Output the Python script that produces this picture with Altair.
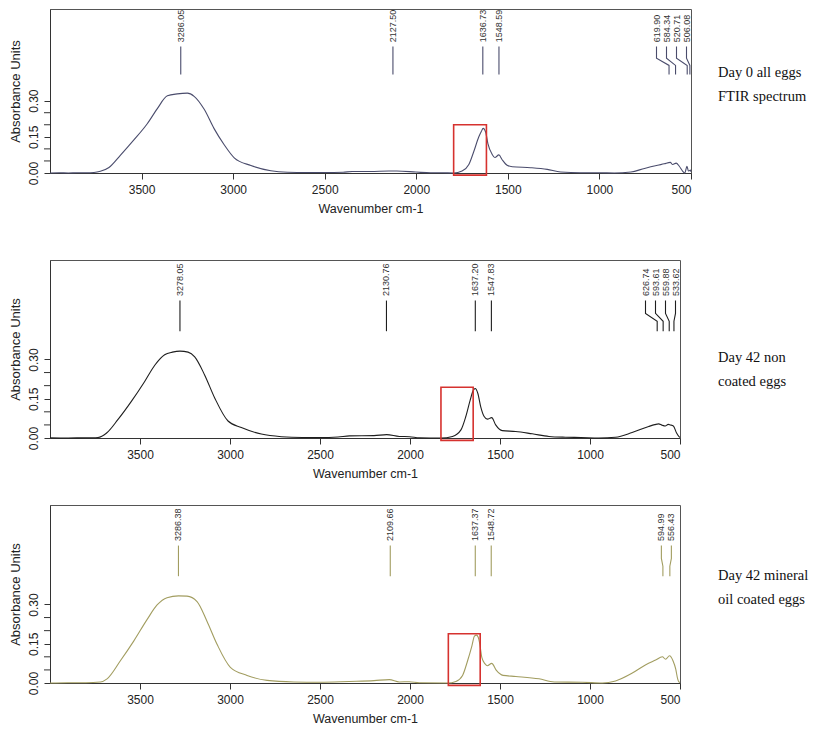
import altair as alt
import pandas as pd

# ---------------- data ----------------
# Panel 1: Day 0 all eggs
wn1 = [4000, 3950, 3900, 3850, 3800, 3760, 3725, 3678, 3615, 3542, 3469, 3414, 3359, 3305, 3250, 3213,
       3158, 3104, 3049, 2994, 2903, 2794, 2702, 2600, 2500, 2400, 2350, 2250, 2150, 2106, 2002, 1922,
       1860, 1796, 1750, 1713, 1686, 1659, 1645, 1635, 1621, 1609, 1586, 1571, 1549, 1531, 1504, 1476,
       1376, 1285, 1212, 1102, 1000, 919, 828, 754, 682, 646, 613, 600, 581, 564, 546, 534, 522, 514, 503, 500]
ab1 = [0.000, 0.001, 0.000, 0.001, 0.001, 0.002, 0.007, 0.023, 0.074, 0.137, 0.204, 0.267, 0.320, 0.328, 0.331, 0.318,
       0.264, 0.184, 0.117, 0.063, 0.031, 0.009, 0.003, 0.002, 0.002, 0.003, 0.006, 0.006, 0.008, 0.008, 0.004, 0.001,
       0.001, 0.000, 0.008, 0.035, 0.089, 0.149, 0.172, 0.185, 0.169, 0.122, 0.078, 0.064, 0.075, 0.055, 0.032, 0.026,
       0.022, 0.015, 0.004, 0.001, 0.001, 0.000, 0.004, 0.019, 0.032, 0.038, 0.044, 0.035, 0.041, 0.028, 0.008, 0.000, 0.028, 0.008, 0.012, 0.005]
peaks1 = [3286.05, 2127.50, 1636.73, 1548.59, 619.90, 584.34, 520.71, 506.08]
box1 = [1796, 1617, -0.009, 0.200]
caption1 = "Day 0 all eggs\nFTIR spectrum"

# Panel 2: Day 42 non coated eggs
wn2 = [4000, 3900, 3800, 3760, 3733, 3687, 3622, 3548, 3474, 3418, 3363, 3320, 3278, 3233, 3196, 3141,
       3085, 3011, 2937, 2826, 2715, 2600, 2500, 2400, 2336, 2200, 2130, 2059, 2003, 1948, 1828, 1764,
       1717, 1690, 1666, 1649, 1638, 1623, 1607, 1588, 1570, 1546, 1524, 1487, 1413, 1321, 1228, 1136,
       1050, 951, 858, 766, 674, 640, 619, 600, 582, 565, 554, 537, 519, 504, 500]
ab2 = [0.001, 0.000, 0.001, 0.001, 0.002, 0.018, 0.071, 0.140, 0.216, 0.278, 0.318, 0.328, 0.332, 0.328, 0.310, 0.241,
       0.153, 0.065, 0.040, 0.015, 0.005, 0.002, 0.002, 0.004, 0.008, 0.009, 0.013, 0.006, 0.005, 0.001, 0.000, 0.006,
       0.031, 0.082, 0.144, 0.181, 0.189, 0.170, 0.119, 0.082, 0.072, 0.078, 0.050, 0.028, 0.025, 0.016, 0.006, 0.003,
       0.002, 0.000, 0.003, 0.021, 0.044, 0.051, 0.054, 0.049, 0.046, 0.052, 0.050, 0.046, 0.019, 0.004, 0.002]
peaks2 = [3278.05, 2130.76, 1637.20, 1547.83, 626.74, 593.61, 559.88, 533.62]
box2 = [1828, 1649, -0.009, 0.194]
caption2 = "Day 42 non\ncoated eggs"

# Panel 3: Day 42 mineral oil coated eggs
wn3 = [4000, 3900, 3800, 3720, 3683, 3609, 3535, 3461, 3405, 3350, 3286, 3239, 3183, 3128, 3072, 2998,
       2905, 2794, 2646, 2500, 2337, 2200, 2115, 2059, 2004, 1948, 1791, 1745, 1708, 1680, 1656, 1642,
       1631, 1621, 1612, 1601, 1583, 1570, 1546, 1520, 1483, 1412, 1283, 1199, 1042, 931, 858, 765,
       690, 635, 598, 580, 558, 539, 524, 513, 506, 500]
ab3 = [0.000, 0.001, 0.001, 0.004, 0.016, 0.085, 0.160, 0.242, 0.298, 0.326, 0.333, 0.332, 0.311, 0.236, 0.148, 0.060,
       0.029, 0.010, 0.004, 0.003, 0.006, 0.009, 0.013, 0.004, 0.005, 0.001, 0.000, 0.006, 0.029, 0.085, 0.142, 0.179,
       0.183, 0.175, 0.148, 0.098, 0.073, 0.066, 0.075, 0.048, 0.029, 0.025, 0.016, 0.004, 0.003, 0.000, 0.008, 0.038,
       0.070, 0.088, 0.100, 0.091, 0.104, 0.085, 0.054, 0.016, 0.004, 0.002]
peaks3 = [3286.38, 2109.66, 1637.37, 1548.72, 594.99, 556.43]
box3 = [1787, 1610, -0.009, 0.188]
caption3 = "Day 42 mineral\noil coated eggs"

x_ticks = [3500, 3000, 2500, 2000, 1500, 1000, 500]
y_labels = [0.0, 0.15, 0.30]
y_minor = [0.05, 0.10, 0.20, 0.25]

# ---------------- layout / style ----------------
WN_MAX, WN_MIN = 4000, 500
Y_MAX = 0.68
LEAD_Y = [0.525, 0.476, 0.446, 0.408]   # leader line levels (absorbance units)
LABEL_Y = 0.542
RED = "#d6322f"
AX = "#333333"


def place_labels(peaks, width, gap=10.0, margin=4.5):
    px = [width * (WN_MAX - p) / (WN_MAX - WN_MIN) for p in peaks]
    limit = width - margin
    groups = [[i] for i in range(len(px))]

    def lay(g):
        m = sum(px[i] for i in g) / len(g)
        start = m - gap * (len(g) - 1) / 2
        end = start + gap * (len(g) - 1)
        if end > limit:
            start -= end - limit
        return [start + gap * k for k in range(len(g))]

    while True:
        pos = [lay(g) for g in groups]
        merged = False
        for k in range(len(groups) - 1):
            if pos[k + 1][0] - pos[k][-1] < gap - 1e-9:
                groups[k] = groups[k] + groups[k + 1]
                del groups[k + 1]
                merged = True
                break
        if not merged:
            break
    out = [0.0] * len(px)
    for g, p in zip(groups, pos):
        for i, v in zip(g, p):
            out[i] = WN_MAX - v * (WN_MAX - WN_MIN) / width
    return out


def panel(wn, ab, peaks, box, caption, color, width, height, cap_y):
    xs = alt.Scale(domain=[WN_MIN, WN_MAX], reverse=True, nice=False, zero=False)
    ys = alt.Scale(domain=[0, Y_MAX], nice=False, zero=False)

    spec = pd.DataFrame({"wn": wn, "ab": ab})
    line = alt.Chart(spec).mark_line(color=color, strokeWidth=1.1, interpolate="monotone").encode(
        x=alt.X("wn:Q", scale=xs,
                axis=alt.Axis(values=x_ticks, title="Wavenumber cm-1", format="d",
                              labelPadding=5, titlePadding=7)),
        y=alt.Y("ab:Q", scale=ys,
                axis=alt.Axis(values=y_labels, title="Absorbance Units", format=".2f",
                              labelAngle=270, labelAlign="center", labelBaseline="bottom",
                              labelOverlap=False, labelPadding=4, titlePadding=5)),
        order=alt.Order("idx:Q"),
    ).transform_window(idx="row_number()")

    minor = alt.Chart(pd.DataFrame({"ab": y_minor})).mark_rule(color=AX, strokeWidth=1).encode(
        y=alt.Y("ab:Q", scale=ys), x=alt.value(-6), x2=alt.value(0))

    lab_wn = place_labels(peaks, width)
    rows = []
    for i, (p, lw) in enumerate(zip(peaks, lab_wn)):
        pts = [(lw, LEAD_Y[0]), (lw, LEAD_Y[1]), (p, LEAD_Y[2]), (p, LEAD_Y[3])]
        for k, (xv, yv) in enumerate(pts):
            rows.append({"peak": i, "k": k, "wn": xv, "ab": yv})
    lead = alt.Chart(pd.DataFrame(rows)).mark_line(color=color, strokeWidth=1.1).encode(
        x=alt.X("wn:Q", scale=xs), y=alt.Y("ab:Q", scale=ys),
        detail="peak:N", order="k:Q")

    labs = pd.DataFrame({"wn": lab_wn, "ab": [LABEL_Y] * len(peaks),
                         "txt": [f"{p:.2f}" for p in peaks]})
    text = alt.Chart(labs).mark_text(angle=270, align="left", baseline="middle",
                                     fontSize=9, font="Liberation Sans", color="#333333").encode(
        x=alt.X("wn:Q", scale=xs), y=alt.Y("ab:Q", scale=ys), text="txt:N")

    bx = pd.DataFrame({"wn": [box[0]], "wn2": [box[1]], "ab": [box[2]], "ab2": [box[3]]})
    rect = alt.Chart(bx).mark_rect(filled=False, stroke=RED, strokeWidth=1.6).encode(
        x=alt.X("wn:Q", scale=xs), x2="wn2:Q", y=alt.Y("ab:Q", scale=ys), y2="ab2:Q")

    cap = alt.Chart(pd.DataFrame({"c": [caption]})).mark_text(
        align="left", baseline="middle", font="Liberation Serif", fontSize=14.5,
        lineBreak="\n", lineHeight=24, color="#111111").encode(
        text="c:N", x=alt.value(668), y=alt.value(cap_y))

    return alt.layer(line, minor, lead, text, rect, cap).properties(width=width, height=height)


p1 = panel(wn1, ab1, peaks1, box1, caption1, "#4a4c6c", 641, 164, 64)
p2 = panel(wn2, ab2, peaks2, box2, caption2, "#1e1e1e", 630, 178, 98)
p3 = panel(wn3, ab3, peaks3, box3, caption3, "#a29d60", 630, 178, 71)

chart = alt.vconcat(p1, alt.vconcat(p2, p3, spacing=24), spacing=44).properties(
    padding=0, background="white"
).configure_view(
    stroke="#555555", strokeWidth=1
).configure_axis(
    grid=False, domainColor=AX, tickColor=AX, tickSize=6,
    labelColor="#222222", titleColor="#222222",
    labelFont="Liberation Sans", titleFont="Liberation Sans",
    labelFontSize=12, titleFontSize=12.5, titleFontWeight="normal"
).configure_axisY(titleFontSize=13, labelOverlap=False)

chart.save("out.html", embed_options={"renderer": "svg", "actions": False})
